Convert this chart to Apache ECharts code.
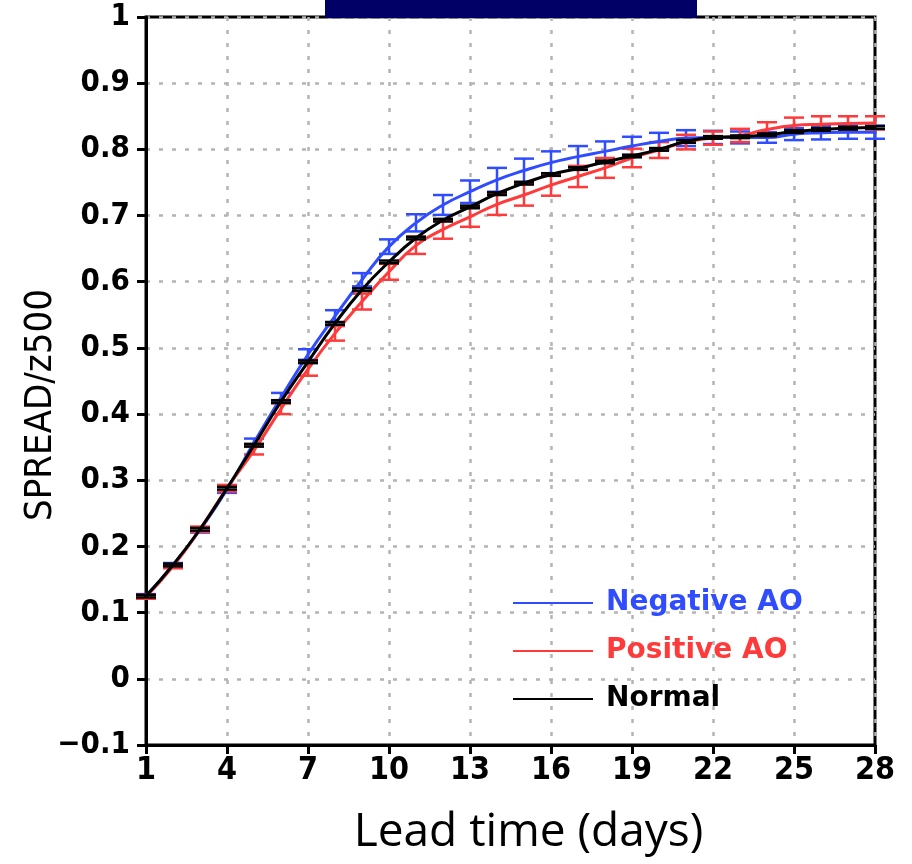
<!DOCTYPE html>
<html>
<head>
<meta charset="utf-8">
<script src="https://cdn.jsdelivr.net/npm/echarts@6/dist/echarts.min.js"></script>
<style>html,body{margin:0;padding:0;background:#fff}#c{width:912px;height:864px}</style>
</head>
<body>
<div id="c"></div>
<script>
const days = ['1','2','3','4','5','6','7','8','9','10','11','12','13','14','15','16','17','18','19','20','21','22','23','24','25','26','27','28'];
const negAO = [0.125,0.172,0.225,0.286,0.357,0.425,0.490,0.548,0.603,0.653,0.689,0.716,0.736,0.754,0.768,0.780,0.789,0.797,0.805,0.812,0.817,0.818,0.818,0.818,0.823,0.825,0.826,0.826];
const posAO = [0.124,0.170,0.226,0.288,0.345,0.408,0.468,0.522,0.570,0.615,0.655,0.679,0.698,0.717,0.731,0.746,0.759,0.772,0.787,0.799,0.811,0.817,0.821,0.830,0.836,0.838,0.839,0.840];
const normal = [0.125,0.172,0.226,0.288,0.353,0.419,0.479,0.537,0.588,0.630,0.666,0.693,0.713,0.733,0.749,0.762,0.771,0.781,0.790,0.800,0.812,0.818,0.819,0.822,0.827,0.830,0.832,0.833];
const negErr = [0.003,0.003,0.004,0.005,0.006,0.007,0.008,0.009,0.010,0.011,0.013,0.015,0.017,0.018,0.018,0.017,0.016,0.015,0.014,0.013,0.012,0.010,0.009,0.008,0.009,0.010,0.010,0.010];
const posErr = [0.003,0.003,0.004,0.005,0.006,0.008,0.010,0.011,0.012,0.012,0.013,0.014,0.015,0.016,0.016,0.016,0.016,0.015,0.014,0.012,0.011,0.010,0.010,0.011,0.012,0.012,0.011,0.010];
const normErr = [0.002,0.002,0.002,0.002,0.002,0.002,0.002,0.002,0.002,0.002,0.002,0.002,0.002,0.002,0.002,0.002,0.002,0.002,0.002,0.002,0.002,0.002,0.002,0.002,0.002,0.002,0.002,0.002];
const seriesNames = ['Negative AO','Positive AO','Normal'];
const colors = ['#2f4cff','#ff3a3a','#000000'];
const yTicks = {min:-0.1, max:1, interval:0.1};

function errData(vals, errs){ return vals.map((v,i)=>[i, v-errs[i], v+errs[i]]); }
function errRender(color){
  return function(params, api){
    const x = api.value(0);
    const a = api.coord([x, api.value(1)]);
    const b = api.coord([x, api.value(2)]);
    const hw = 10;
    const st = {stroke: color, lineWidth: 2.5};
    return {type:'group', children:[
      {type:'line', shape:{x1:a[0],y1:a[1],x2:b[0],y2:b[1]}, style:st},
      {type:'line', shape:{x1:a[0]-hw,y1:a[1],x2:a[0]+hw,y2:a[1]}, style:st},
      {type:'line', shape:{x1:b[0]-hw,y1:b[1],x2:b[0]+hw,y2:b[1]}, style:st}
    ]};
  };
}
const tickFont = 'Liberation Sans Narrow, DejaVu Sans Condensed';
const chart = echarts.init(document.getElementById('c'));
const gridLine = {show:true, lineStyle:{color:'#b4b4b4', width:2.5, type:[4,9]}};
chart.setOption({
  animation:false,
  backgroundColor:'#fff',
  grid:{left:146, right:37, top:17, bottom:119, show:true, borderColor:'#000', borderWidth:3, backgroundColor:'transparent'},
  xAxis:{
    type:'category', data:days, boundaryGap:false,
    axisLine:{onZero:false, lineStyle:{color:'#000', width:3}},
    axisTick:{interval:2, length:9, lineStyle:{color:'#000', width:3}},
    axisLabel:{interval:2, color:'#000', fontFamily:tickFont, fontWeight:'bold', fontSize:32, margin:10},
    splitLine:Object.assign({interval:2}, gridLine),
    name:'Lead time (days)', nameLocation:'middle', nameGap:65,
    nameTextStyle:{fontFamily:'Open Sans', fontSize:46, color:'#000', padding:[0,0,0,36]}
  },
  yAxis:{
    type:'value', min:yTicks.min, max:yTicks.max, interval:yTicks.interval,
    axisLine:{show:true, lineStyle:{color:'#000', width:3}},
    axisTick:{show:true, length:9, lineStyle:{color:'#000', width:3}},
    axisLabel:{color:'#000', fontFamily:tickFont, fontWeight:'bold', fontSize:31, margin:16,
      formatter:function(v){ const r = Math.round(v*10)/10; return r < 0 ? '\u2212' + Math.abs(r) : String(r); }},
    splitLine:gridLine,
    name:'SPREAD/z500', nameLocation:'middle', nameGap:86, nameMoveOverlap:false,
    nameTextStyle:{fontFamily:'DejaVu Sans Condensed', fontSize:38, color:'#000', padding:[0,48,0,0]}
  },
  legend:{
    orient:'vertical', left:508, top:584, icon:'rect', itemWidth:80, itemHeight:2, itemGap:20,
    textStyle:{fontFamily:'DejaVu Sans', fontWeight:'bold', fontSize:28, lineHeight:27, padding:[0,0,0,8]},
    data:[
      {name:seriesNames[0], textStyle:{color:colors[0]}},
      {name:seriesNames[1], textStyle:{color:colors[1]}},
      {name:seriesNames[2], textStyle:{color:colors[2]}}
    ]
  },
  graphic:[{type:'rect', left:325, top:0, shape:{width:372, height:18}, style:{fill:'#000066'}, z:100}],
  series:[
    {type:'custom', name:'negErr', renderItem:errRender(colors[0]), data:errData(negAO,negErr), encode:{x:0,y:[1,2]}, z:3},
    {type:'custom', name:'posErr', renderItem:errRender(colors[1]), data:errData(posAO,posErr), encode:{x:0,y:[1,2]}, z:3},
    {type:'line', name:seriesNames[0], data:negAO, smooth:true, showSymbol:false, lineStyle:{color:colors[0], width:3}, itemStyle:{color:colors[0]}, z:4},
    {type:'line', name:seriesNames[1], data:posAO, smooth:true, showSymbol:false, lineStyle:{color:colors[1], width:3}, itemStyle:{color:colors[1]}, z:4},
    {type:'custom', name:'normErr', renderItem:errRender(colors[2]), data:errData(normal,normErr), encode:{x:0,y:[1,2]}, z:5},
    {type:'line', name:seriesNames[2], data:normal, smooth:true, showSymbol:false, lineStyle:{color:colors[2], width:3}, itemStyle:{color:colors[2]}, z:6}
  ]
});
</script>
</body>
</html>
